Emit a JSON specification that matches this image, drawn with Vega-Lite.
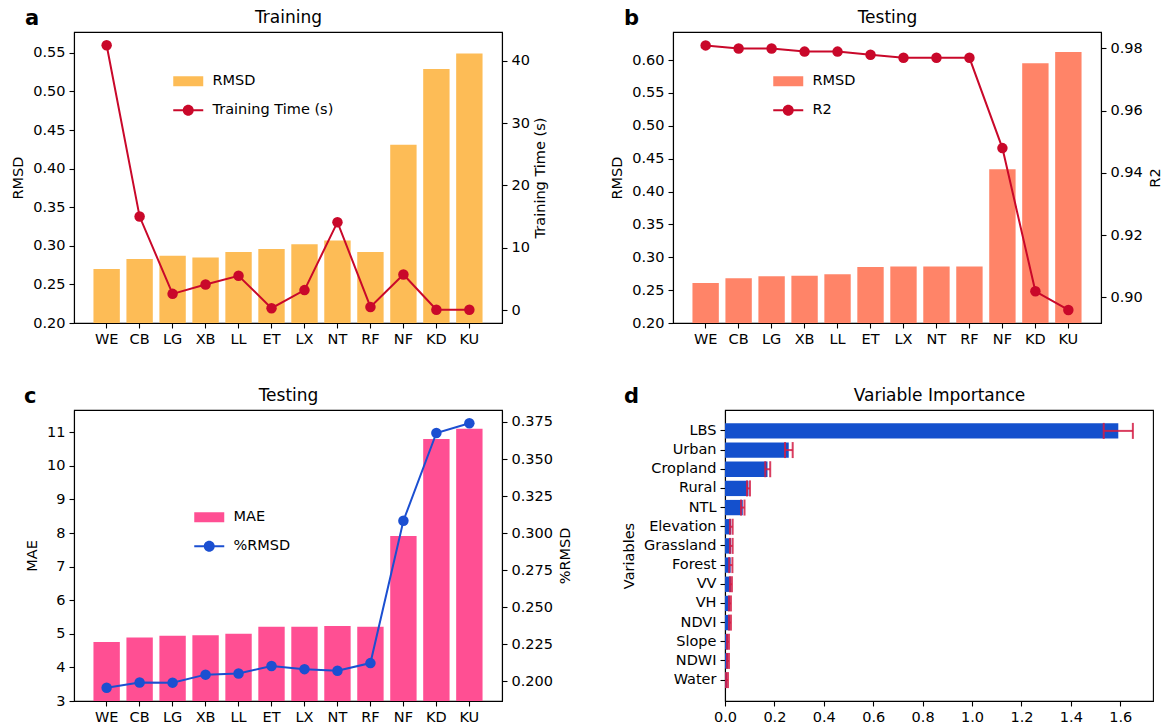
{
  "$schema": "https://vega.github.io/schema/vega-lite/v6.json",
  "autosize": {"type": "none"},
  "padding": {"left": 74, "top": 32, "right": 1101, "bottom": 696},
  "background": "white",
  "config": {
    "font": "DejaVu Sans",
    "view": {"stroke": "#000", "strokeWidth": 1.1},
    "axis": {
      "labelFont": "DejaVu Sans", "titleFont": "DejaVu Sans",
      "labelFontSize": 14.5, "titleFontSize": 14.5, "titleFontWeight": "normal",
      "labelColor": "#000", "titleColor": "#000", "tickColor": "#000", "domainColor": "#000",
      "tickSize": 5, "tickWidth": 1.1, "domainWidth": 1.1, "labelPadding": 4, "grid": false,
      "labelFlush": false, "labelOverlap": false
    },
    "title": {"font": "DejaVu Sans", "fontSize": 21, "fontWeight": "bold", "color": "#000", "anchor": "start", "frame": "group"},
    "legend": {"labelFont": "DejaVu Sans", "labelFontSize": 14.5, "labelColor": "#000"}
  },
  "datasets": {
    "models": [
      {"model": "WE", "rmsd_train": 0.270, "time": 42.5, "rmsd_test": 0.261, "r2": 0.981, "mae": 4.76, "prmsd": 0.1955},
      {"model": "CB", "rmsd_train": 0.283, "time": 15.0, "rmsd_test": 0.268, "r2": 0.980, "mae": 4.89, "prmsd": 0.1991},
      {"model": "LG", "rmsd_train": 0.287, "time": 2.6, "rmsd_test": 0.271, "r2": 0.980, "mae": 4.94, "prmsd": 0.1990},
      {"model": "XB", "rmsd_train": 0.285, "time": 4.1, "rmsd_test": 0.272, "r2": 0.979, "mae": 4.96, "prmsd": 0.2044},
      {"model": "LL", "rmsd_train": 0.292, "time": 5.5, "rmsd_test": 0.274, "r2": 0.979, "mae": 5.00, "prmsd": 0.2052},
      {"model": "ET", "rmsd_train": 0.296, "time": 0.3, "rmsd_test": 0.285, "r2": 0.978, "mae": 5.21, "prmsd": 0.2102},
      {"model": "LX", "rmsd_train": 0.302, "time": 3.2, "rmsd_test": 0.286, "r2": 0.977, "mae": 5.21, "prmsd": 0.2081},
      {"model": "NT", "rmsd_train": 0.307, "time": 14.1, "rmsd_test": 0.286, "r2": 0.977, "mae": 5.23, "prmsd": 0.2070},
      {"model": "RF", "rmsd_train": 0.292, "time": 0.5, "rmsd_test": 0.286, "r2": 0.977, "mae": 5.21, "prmsd": 0.2122},
      {"model": "NF", "rmsd_train": 0.431, "time": 5.7, "rmsd_test": 0.434, "r2": 0.948, "mae": 7.91, "prmsd": 0.3083},
      {"model": "KD", "rmsd_train": 0.529, "time": 0.05, "rmsd_test": 0.595, "r2": 0.902, "mae": 10.80, "prmsd": 0.3676},
      {"model": "KU", "rmsd_train": 0.549, "time": 0.05, "rmsd_test": 0.612, "r2": 0.896, "mae": 11.11, "prmsd": 0.3742}
    ],
    "importance": [
      {"var": "LBS", "imp": 1.592, "lo": 1.533, "hi": 1.651},
      {"var": "Urban", "imp": 0.258, "lo": 0.243, "hi": 0.274},
      {"var": "Cropland", "imp": 0.172, "lo": 0.163, "hi": 0.183},
      {"var": "Rural", "imp": 0.095, "lo": 0.089, "hi": 0.101},
      {"var": "NTL", "imp": 0.072, "lo": 0.065, "hi": 0.079},
      {"var": "Elevation", "imp": 0.025, "lo": 0.020, "hi": 0.031},
      {"var": "Grassland", "imp": 0.025, "lo": 0.020, "hi": 0.031},
      {"var": "Forest", "imp": 0.023, "lo": 0.017, "hi": 0.030},
      {"var": "VV", "imp": 0.024, "lo": 0.020, "hi": 0.028},
      {"var": "VH", "imp": 0.020, "lo": 0.016, "hi": 0.024},
      {"var": "NDVI", "imp": 0.020, "lo": 0.016, "hi": 0.024},
      {"var": "Slope", "imp": 0.012, "lo": 0.008, "hi": 0.016},
      {"var": "NDWI", "imp": 0.012, "lo": 0.008, "hi": 0.016},
      {"var": "Water", "imp": 0.008, "lo": 0.004, "hi": 0.012}
    ]
  },
  "vconcat": [
    {
      "hconcat": [
        {
          "width": 428, "height": 291,
          "title": {"text": "a", "dx": -49, "offset": -21},
          "data": {"name": "models"},
          "layer": [
            {
              "mark": {"type": "bar", "clip": true},
              "encoding": {
                "x": {"field": "model", "type": "nominal", "sort": null,
                      "scale": {"paddingInner": 0.2, "paddingOuter": 0.59},
                      "axis": {"title": null, "labelAngle": 0}},
                "y": {"field": "rmsd_train", "type": "quantitative",
                      "scale": {"domain": [0.2, 0.577], "nice": false, "zero": false},
                      "axis": {"title": "RMSD", "values": [0.2, 0.25, 0.3, 0.35, 0.4, 0.45, 0.5, 0.55], "format": ".2f", "titlePadding": 7}},
                "color": {"datum": "RMSD", "type": "nominal",
                          "scale": {"domain": ["RMSD", "Training Time (s)"], "range": ["#FDBC56", "#C9082A"]},
                          "legend": {"orient": "none", "legendX": 107, "legendY": 42, "title": null, "padding": 0,
                                     "symbolSize": 100, "labelOffset": 17, "rowPadding": 14, "symbolOpacity": 1, "symbolStrokeWidth": 0,
                                     "encode": {"symbols": {"update": {"shape": {"signal": "datum.index === 0 ? 'M-3,-1H3V1H-3Z' : 'M-3,-0.2H3V0.2H-3Z M1.1,0A1.1,1.1,0,1,1,-1.1,0A1.1,1.1,0,1,1,1.1,0Z'"}}}}}}
              }
            },
            {
              "mark": {"type": "line", "color": "#C9082A", "strokeWidth": 2},
              "encoding": {
                "x": {"field": "model", "type": "nominal", "sort": null,
                      "axis": {"orient": "top", "labels": false, "ticks": false, "domain": false, "title": "Training", "titleFontSize": 17, "titlePadding": 6}},
                "y": {"field": "time", "type": "quantitative",
                      "scale": {"domain": [-2.08, 44.62], "nice": false, "zero": false},
                      "axis": {"orient": "right", "title": "Training Time (s)", "values": [0, 10, 20, 30, 40], "format": "d", "titleAngle": 270, "titleBaseline": "top", "titlePadding": 4}}
              }
            },
            {
              "mark": {"type": "point", "filled": true, "size": 110, "opacity": 1},
              "encoding": {
                "x": {"field": "model", "type": "nominal", "sort": null, "axis": null},
                "y": {"field": "time", "type": "quantitative",
                      "scale": {"domain": [-2.08, 44.62], "nice": false, "zero": false}, "axis": null},
                "color": {"datum": "Training Time (s)", "type": "nominal"}
              }
            }
          ],
          "resolve": {"scale": {"y": "independent"}, "axis": {"x": "independent", "y": "independent"}}
        },
        {
          "width": 428, "height": 291,
          "title": {"text": "b", "dx": -49, "offset": -21},
          "data": {"name": "models"},
          "layer": [
            {
              "mark": {"type": "bar", "clip": true},
              "encoding": {
                "x": {"field": "model", "type": "nominal", "sort": null,
                      "scale": {"paddingInner": 0.2, "paddingOuter": 0.59},
                      "axis": {"title": null, "labelAngle": 0}},
                "y": {"field": "rmsd_test", "type": "quantitative",
                      "scale": {"domain": [0.2, 0.6426], "nice": false, "zero": false},
                      "axis": {"title": "RMSD", "values": [0.2, 0.25, 0.3, 0.35, 0.4, 0.45, 0.5, 0.55, 0.6], "format": ".2f", "titlePadding": 7}},
                "color": {"datum": "RMSD", "type": "nominal",
                          "scale": {"domain": ["RMSD", "R2"], "range": ["#FF8468", "#C9082A"]},
                          "legend": {"orient": "none", "legendX": 108, "legendY": 42, "title": null, "padding": 0,
                                     "symbolSize": 100, "labelOffset": 17, "rowPadding": 14, "symbolOpacity": 1, "symbolStrokeWidth": 0,
                                     "encode": {"symbols": {"update": {"shape": {"signal": "datum.index === 0 ? 'M-3,-1H3V1H-3Z' : 'M-3,-0.2H3V0.2H-3Z M1.1,0A1.1,1.1,0,1,1,-1.1,0A1.1,1.1,0,1,1,1.1,0Z'"}}}}}}
              }
            },
            {
              "mark": {"type": "line", "color": "#C9082A", "strokeWidth": 2},
              "encoding": {
                "x": {"field": "model", "type": "nominal", "sort": null,
                      "axis": {"orient": "top", "labels": false, "ticks": false, "domain": false, "title": "Testing", "titleFontSize": 17, "titlePadding": 6}},
                "y": {"field": "r2", "type": "quantitative",
                      "scale": {"domain": [0.8918, 0.9853], "nice": false, "zero": false},
                      "axis": {"orient": "right", "title": "R2", "values": [0.9, 0.92, 0.94, 0.96, 0.98], "format": ".2f", "titleAngle": 270, "titleBaseline": "top", "titlePadding": 6}}
              }
            },
            {
              "mark": {"type": "point", "filled": true, "size": 110, "opacity": 1},
              "encoding": {
                "x": {"field": "model", "type": "nominal", "sort": null, "axis": null},
                "y": {"field": "r2", "type": "quantitative",
                      "scale": {"domain": [0.8918, 0.9853], "nice": false, "zero": false}, "axis": null},
                "color": {"datum": "R2", "type": "nominal"}
              }
            }
          ],
          "resolve": {"scale": {"y": "independent"}, "axis": {"x": "independent", "y": "independent"}}
        }
      ],
      "spacing": 171,
      "bounds": "flush",
      "resolve": {"scale": {"color": "independent"}, "legend": {"color": "independent"}}
    },
    {
      "hconcat": [
        {
          "width": 428, "height": 291,
          "title": {"text": "c", "dx": -50, "offset": -21},
          "data": {"name": "models"},
          "layer": [
            {
              "mark": {"type": "bar", "clip": true},
              "encoding": {
                "x": {"field": "model", "type": "nominal", "sort": null,
                      "scale": {"paddingInner": 0.2, "paddingOuter": 0.59},
                      "axis": {"title": null, "labelAngle": 0}},
                "y": {"field": "mae", "type": "quantitative",
                      "scale": {"domain": [3, 11.665], "nice": false, "zero": false},
                      "axis": {"title": "MAE", "values": [3, 4, 5, 6, 7, 8, 9, 10, 11], "format": "d", "titlePadding": 7}},
                "color": {"datum": "MAE", "type": "nominal",
                          "scale": {"domain": ["MAE", "%RMSD"], "range": ["#FF4F93", "#1B4FD1"]},
                          "legend": {"orient": "none", "legendX": 128, "legendY": 100, "title": null, "padding": 0,
                                     "symbolSize": 100, "labelOffset": 17, "rowPadding": 14, "symbolOpacity": 1, "symbolStrokeWidth": 0,
                                     "encode": {"symbols": {"update": {"shape": {"signal": "datum.index === 0 ? 'M-3,-1H3V1H-3Z' : 'M-3,-0.2H3V0.2H-3Z M1.1,0A1.1,1.1,0,1,1,-1.1,0A1.1,1.1,0,1,1,1.1,0Z'"}}}}}}
              }
            },
            {
              "mark": {"type": "line", "color": "#1B4FD1", "strokeWidth": 2},
              "encoding": {
                "x": {"field": "model", "type": "nominal", "sort": null,
                      "axis": {"orient": "top", "labels": false, "ticks": false, "domain": false, "title": "Testing", "titleFontSize": 17, "titlePadding": 6}},
                "y": {"field": "prmsd", "type": "quantitative",
                      "scale": {"domain": [0.1866, 0.3831], "nice": false, "zero": false},
                      "axis": {"orient": "right", "title": "%RMSD", "values": [0.2, 0.225, 0.25, 0.275, 0.3, 0.325, 0.35, 0.375], "format": ".3f", "titleAngle": 270, "titleBaseline": "top", "titlePadding": 6}}
              }
            },
            {
              "mark": {"type": "point", "filled": true, "size": 110, "opacity": 1},
              "encoding": {
                "x": {"field": "model", "type": "nominal", "sort": null, "axis": null},
                "y": {"field": "prmsd", "type": "quantitative",
                      "scale": {"domain": [0.1866, 0.3831], "nice": false, "zero": false}, "axis": null},
                "color": {"datum": "%RMSD", "type": "nominal"}
              }
            }
          ],
          "resolve": {"scale": {"y": "independent"}, "axis": {"x": "independent", "y": "independent"}}
        },
        {
          "width": 428, "height": 291,
          "title": {"text": "d", "dx": -101, "offset": -21},
          "data": {"name": "importance"},
          "layer": [
            {
              "mark": {"type": "bar", "color": "#1450CD"},
              "encoding": {
                "y": {"field": "var", "type": "nominal", "sort": null,
                      "scale": {"paddingInner": 0.2, "paddingOuter": 0.69},
                      "axis": {"title": "Variables", "titlePadding": 7}},
                "x": {"field": "imp", "type": "quantitative",
                      "scale": {"domain": [0, 1.7325], "nice": false, "zero": false},
                      "axis": {"title": null, "values": [0, 0.2, 0.4, 0.6, 0.8, 1.0, 1.2, 1.4, 1.6], "format": ".1f"}}
              }
            },
            {
              "mark": {"type": "rule", "color": "#D41C44", "strokeWidth": 2, "opacity": 0.85},
              "encoding": {
                "y": {"field": "var", "type": "nominal", "sort": null, "axis": null},
                "x": {"field": "lo", "type": "quantitative",
                      "axis": {"orient": "top", "labels": false, "ticks": false, "domain": false, "title": "Variable Importance", "titleFontSize": 17, "titlePadding": 6}},
                "x2": {"field": "hi"}
              }
            },
            {
              "mark": {"type": "tick", "color": "#D41C44", "thickness": 2, "size": 16, "opacity": 0.85},
              "encoding": {
                "y": {"field": "var", "type": "nominal", "sort": null, "axis": null},
                "x": {"field": "lo", "type": "quantitative", "axis": null}
              }
            },
            {
              "mark": {"type": "tick", "color": "#D41C44", "thickness": 2, "size": 16, "opacity": 0.85},
              "encoding": {
                "y": {"field": "var", "type": "nominal", "sort": null, "axis": null},
                "x": {"field": "hi", "type": "quantitative", "axis": null}
              }
            }
          ],
          "resolve": {"axis": {"x": "independent", "y": "independent"}}
        }
      ],
      "spacing": 223,
      "bounds": "flush",
      "resolve": {"scale": {"color": "independent"}, "legend": {"color": "independent"}}
    }
  ],
  "spacing": 378,
  "bounds": "flush",
  "resolve": {"scale": {"color": "independent"}, "legend": {"color": "independent"}}
}
